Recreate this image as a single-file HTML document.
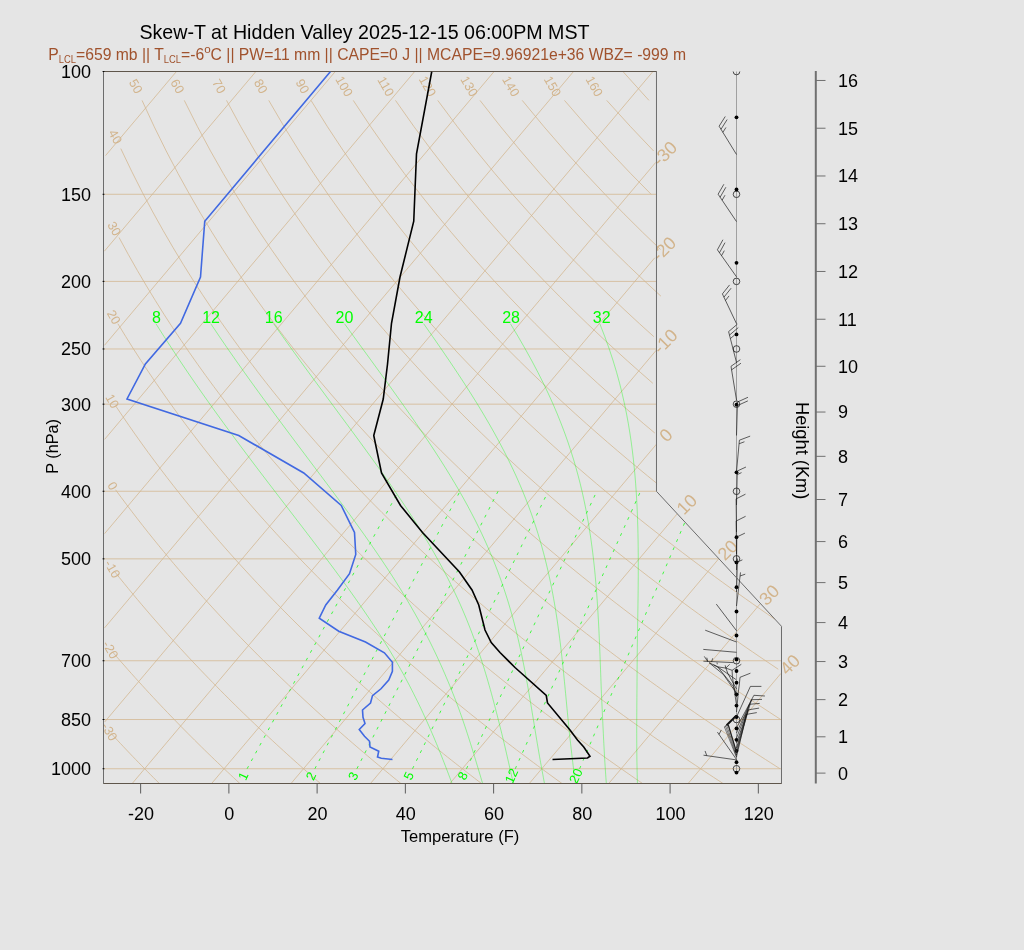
<!DOCTYPE html>
<html><head><meta charset="utf-8"><title>Skew-T</title>
<style>
html,body{margin:0;padding:0;background:#e5e5e5;}
body{width:1024px;height:950px;overflow:hidden;font-family:"Liberation Sans",sans-serif;}
svg{display:block;position:absolute;left:0;top:0;will-change:transform;}
svg text{font-family:"Liberation Sans",sans-serif;}
</style></head><body>
<svg width="1024" height="950" viewBox="0 0 1024 950">
<rect width="1024" height="950" fill="#e5e5e5"/>
<defs><clipPath id="cp"><polygon points="103.50,783.51 103.50,71.50 656.48,71.50 656.48,491.33 781.49,626.31 781.49,783.51"/></clipPath></defs>
<g clip-path="url(#cp)">
<path d="M105.57 155.58 L176.43 71.52" stroke="#d2b48c" stroke-width="0.74" fill="none" />
<path d="M104.41 251.17 L255.85 71.52" stroke="#d2b48c" stroke-width="0.74" fill="none" />
<path d="M104.48 345.31 L335.27 71.52" stroke="#d2b48c" stroke-width="0.74" fill="none" />
<path d="M104.60 439.39 L414.68 71.52" stroke="#d2b48c" stroke-width="0.74" fill="none" />
<path d="M104.61 533.60 L494.10 71.52" stroke="#d2b48c" stroke-width="0.74" fill="none" />
<path d="M104.57 627.87 L573.52 71.52" stroke="#d2b48c" stroke-width="0.74" fill="none" />
<path d="M104.63 722.01 L652.94 71.52" stroke="#d2b48c" stroke-width="0.74" fill="none" />
<path d="M132.21 783.51 L655.76 162.39" stroke="#d2b48c" stroke-width="0.74" fill="none" />
<path d="M211.63 783.51 L654.76 257.79" stroke="#d2b48c" stroke-width="0.74" fill="none" />
<path d="M291.05 783.51 L656.31 350.18" stroke="#d2b48c" stroke-width="0.74" fill="none" />
<path d="M370.47 783.51 L656.77 443.85" stroke="#d2b48c" stroke-width="0.74" fill="none" />
<path d="M449.88 783.51 L677.74 513.18" stroke="#d2b48c" stroke-width="0.74" fill="none" />
<path d="M529.30 783.51 L718.67 558.85" stroke="#d2b48c" stroke-width="0.74" fill="none" />
<path d="M608.72 783.51 L760.20 603.79" stroke="#d2b48c" stroke-width="0.74" fill="none" />
<path d="M688.14 783.51 L780.91 673.44" stroke="#d2b48c" stroke-width="0.74" fill="none" />
<path d="M103.50 783.51 L781.49 783.51" stroke="#d2b48c" stroke-width="0.74" fill="none" />
<path d="M103.50 768.74 L781.49 768.74" stroke="#d2b48c" stroke-width="0.74" fill="none" />
<path d="M103.50 719.53 L781.49 719.53" stroke="#d2b48c" stroke-width="0.74" fill="none" />
<path d="M103.50 660.74 L781.49 660.74" stroke="#d2b48c" stroke-width="0.74" fill="none" />
<path d="M103.50 558.85 L718.69 558.85" stroke="#d2b48c" stroke-width="0.74" fill="none" />
<path d="M103.50 491.28 L656.48 491.28" stroke="#d2b48c" stroke-width="0.74" fill="none" />
<path d="M103.50 404.17 L656.48 404.17" stroke="#d2b48c" stroke-width="0.74" fill="none" />
<path d="M103.50 348.97 L656.48 348.97" stroke="#d2b48c" stroke-width="0.74" fill="none" />
<path d="M103.50 281.40 L656.48 281.40" stroke="#d2b48c" stroke-width="0.74" fill="none" />
<path d="M103.50 194.29 L656.48 194.29" stroke="#d2b48c" stroke-width="0.74" fill="none" />
<path d="M103.50 71.52 L656.48 71.52" stroke="#d2b48c" stroke-width="0.74" fill="none" />
</g>
<path d="M111.11 733.45 L114.23 736.83 L117.35 740.18 L120.44 743.49 L123.52 746.76 L126.59 750.00 L129.64 753.21 L132.67 756.38 L135.69 759.51 L138.70 762.62 L141.69 765.69 L144.67 768.74 L147.63 771.75 L150.58 774.73 L153.52 777.69 L156.44 780.61 L159.35 783.51" stroke="#d2b48c" stroke-width="0.74" fill="none" />
<path d="M112.55 651.96 L116.36 656.38 L120.14 660.74 L123.90 665.03 L127.64 669.27 L131.35 673.44 L135.04 677.56 L138.71 681.63 L142.36 685.64 L145.98 689.60 L149.59 693.50 L153.17 697.36 L156.73 701.17 L160.28 704.93 L163.80 708.65 L167.30 712.32 L170.79 715.94 L174.25 719.53 L177.70 723.07 L181.12 726.57 L184.53 730.03 L187.92 733.45 L191.30 736.83 L194.65 740.18 L197.99 743.49 L201.31 746.76 L204.61 750.00 L207.90 753.21 L211.17 756.38 L214.42 759.51 L217.66 762.62 L220.88 765.69 L224.08 768.74 L227.27 771.75 L230.45 774.73 L233.61 777.69 L236.75 780.61 L239.88 783.51" stroke="#d2b48c" stroke-width="0.74" fill="none" />
<path d="M114.83 571.89 L119.43 577.64 L124.00 583.28 L128.53 588.81 L133.02 594.25 L137.48 599.59 L141.91 604.84 L146.31 609.99 L150.67 615.07 L155.00 620.06 L159.31 624.96 L163.58 629.79 L167.82 634.55 L172.03 639.23 L176.21 643.84 L180.37 648.38 L184.49 652.85 L188.59 657.26 L192.67 661.60 L196.71 665.88 L200.73 670.11 L204.73 674.27 L208.70 678.38 L212.64 682.43 L216.56 686.43 L220.46 690.38 L224.33 694.28 L228.18 698.13 L232.01 701.93 L235.81 705.68 L239.59 709.38 L243.35 713.05 L247.09 716.66 L250.80 720.24 L254.50 723.77 L258.17 727.26 L261.83 730.72 L265.46 734.13 L269.08 737.51 L272.67 740.84 L276.25 744.15 L279.80 747.41 L283.34 750.64 L286.86 753.84 L290.36 757.01 L293.84 760.14 L297.31 763.24 L300.76 766.30 L304.19 769.34 L307.60 772.35 L311.00 775.33 L314.38 778.27 L317.74 781.19 L320.42 783.51" stroke="#d2b48c" stroke-width="0.74" fill="none" />
<path d="M115.56 489.77 L121.09 497.28 L126.58 504.61 L132.02 511.77 L137.40 518.77 L142.73 525.60 L148.02 532.29 L153.26 538.83 L158.45 545.23 L163.60 551.50 L168.70 557.64 L173.76 563.66 L178.78 569.56 L183.76 575.35 L188.69 581.03 L193.59 586.61 L198.44 592.09 L203.26 597.46 L208.04 602.75 L212.78 607.94 L217.49 613.05 L222.16 618.07 L226.79 623.01 L231.40 627.87 L235.96 632.65 L240.50 637.36 L245.00 642.00 L249.47 646.57 L253.91 651.07 L258.32 655.50 L262.70 659.87 L267.05 664.18 L271.37 668.42 L275.66 672.61 L279.92 676.74 L284.16 680.82 L288.36 684.84 L292.55 688.81 L296.70 692.73 L300.83 696.59 L304.93 700.41 L309.01 704.18 L313.06 707.91 L317.09 711.59 L321.10 715.22 L325.08 718.81 L329.04 722.36 L332.97 725.87 L336.89 729.34 L340.78 732.77 L344.64 736.16 L348.49 739.51 L352.32 742.83 L356.12 746.11 L359.91 749.36 L363.67 752.57 L367.41 755.74 L371.14 758.89 L374.84 762.00 L378.52 765.08 L382.19 768.13 L385.84 771.15 L389.46 774.14 L393.07 777.10 L396.66 780.03 L400.24 782.93 L400.95 783.51" stroke="#d2b48c" stroke-width="0.74" fill="none" />
<path d="M115.87 406.19 L122.50 416.05 L129.06 425.60 L135.54 434.86 L141.95 443.85 L148.28 452.58 L154.55 461.06 L160.76 469.31 L166.89 477.34 L172.96 485.17 L178.97 492.80 L184.92 500.24 L190.81 507.50 L196.64 514.59 L202.42 521.52 L208.14 528.29 L213.80 534.92 L219.41 541.40 L224.97 547.75 L230.48 553.97 L235.94 560.06 L241.36 566.03 L246.72 571.89 L252.04 577.64 L257.31 583.28 L262.54 588.81 L267.72 594.25 L272.87 599.59 L277.97 604.84 L283.03 609.99 L288.05 615.07 L293.03 620.06 L297.97 624.96 L302.88 629.79 L307.75 634.55 L312.58 639.23 L317.37 643.84 L322.13 648.38 L326.86 652.85 L331.56 657.26 L336.22 661.60 L340.84 665.88 L345.44 670.11 L350.01 674.27 L354.54 678.38 L359.04 682.43 L363.52 686.43 L367.96 690.38 L372.38 694.28 L376.77 698.13 L381.13 701.93 L385.46 705.68 L389.77 709.38 L394.05 713.05 L398.30 716.66 L402.53 720.24 L406.73 723.77 L410.91 727.26 L415.06 730.72 L419.19 734.13 L423.30 737.51 L427.38 740.84 L431.44 744.15 L435.47 747.41 L439.49 750.64 L443.48 753.84 L447.45 757.01 L451.39 760.14 L455.32 763.24 L459.23 766.30 L463.11 769.34 L466.98 772.35 L470.82 775.33 L474.65 778.27 L478.45 781.19 L481.48 783.51" stroke="#d2b48c" stroke-width="0.74" fill="none" />
<path d="M117.89 323.72 L125.76 336.61 L133.52 348.97 L141.17 360.84 L148.73 372.27 L156.19 383.28 L163.55 393.91 L170.82 404.17 L177.99 414.10 L185.08 423.72 L192.08 433.03 L199.00 442.07 L205.84 450.85 L212.60 459.38 L219.28 467.68 L225.89 475.75 L232.42 483.62 L238.89 491.28 L245.28 498.76 L251.61 506.06 L257.87 513.18 L264.07 520.14 L270.20 526.95 L276.27 533.60 L282.29 540.12 L288.25 546.49 L294.15 552.74 L299.99 558.85 L305.78 564.85 L311.52 570.73 L317.21 576.50 L322.85 582.16 L328.43 587.71 L333.97 593.17 L339.47 598.53 L344.91 603.79 L350.31 608.97 L355.67 614.06 L360.98 619.06 L366.26 623.99 L371.49 628.83 L376.68 633.60 L381.83 638.30 L386.94 642.92 L392.01 647.47 L397.04 651.96 L402.04 656.38 L407.00 660.74 L411.93 665.03 L416.82 669.27 L421.68 673.44 L426.50 677.56 L431.29 681.63 L436.05 685.64 L440.77 689.60 L445.47 693.50 L450.13 697.36 L454.77 701.17 L459.37 704.93 L463.94 708.65 L468.49 712.32 L473.01 715.94 L477.50 719.53 L481.96 723.07 L486.39 726.57 L490.80 730.03 L495.18 733.45 L499.54 736.83 L503.87 740.18 L508.17 743.49 L512.45 746.76 L516.71 750.00 L520.94 753.21 L525.15 756.38 L529.34 759.51 L533.50 762.62 L537.64 765.69 L541.76 768.74 L545.85 771.75 L549.92 774.73 L553.98 777.69 L558.01 780.61 L562.02 783.51" stroke="#d2b48c" stroke-width="0.74" fill="none" />
<path d="M119.04 237.49 L128.32 254.50 L137.45 270.61 L146.45 285.91 L155.30 300.47 L164.03 314.36 L172.62 327.64 L181.09 340.37 L189.43 352.58 L197.65 364.32 L205.76 375.62 L213.76 386.51 L221.64 397.03 L229.42 407.19 L237.10 417.02 L244.68 426.54 L252.16 435.78 L259.54 444.73 L266.84 453.44 L274.05 461.89 L281.17 470.12 L288.21 478.13 L295.17 485.94 L302.05 493.55 L308.86 500.97 L315.59 508.21 L322.25 515.29 L328.83 522.20 L335.35 528.96 L341.81 535.57 L348.19 542.04 L354.52 548.38 L360.78 554.58 L366.98 560.66 L373.13 566.62 L379.21 572.47 L385.24 578.21 L391.22 583.83 L397.14 589.36 L403.01 594.79 L408.83 600.12 L414.60 605.36 L420.32 610.51 L425.99 615.57 L431.62 620.55 L437.19 625.45 L442.73 630.27 L448.22 635.02 L453.67 639.69 L459.07 644.29 L464.44 648.83 L469.76 653.29 L475.04 657.69 L480.29 662.03 L485.49 666.31 L490.66 670.53 L495.79 674.68 L500.89 678.79 L505.95 682.84 L510.97 686.83 L515.97 690.77 L520.92 694.67 L525.85 698.51 L530.74 702.30 L535.60 706.05 L540.42 709.75 L545.22 713.41 L549.99 717.02 L554.72 720.59 L559.43 724.12 L564.11 727.61 L568.76 731.06 L573.38 734.47 L577.97 737.84 L582.54 741.18 L587.08 744.47 L591.59 747.74 L596.08 750.97 L600.54 754.16 L604.97 757.32 L609.39 760.45 L613.77 763.55 L618.13 766.61 L622.47 769.64 L626.79 772.65 L631.08 775.62 L635.35 778.57 L639.59 781.49 L642.55 783.51" stroke="#d2b48c" stroke-width="0.74" fill="none" />
<path d="M120.80 148.62 L131.63 171.23 L142.28 192.26 L152.76 211.93 L163.06 230.40 L173.18 247.81 L183.13 264.27 L192.91 279.88 L202.53 294.73 L211.99 308.88 L221.30 322.40 L230.46 335.34 L239.47 347.75 L248.34 359.68 L257.09 371.15 L265.70 382.20 L274.18 392.86 L282.55 403.16 L290.80 413.13 L298.94 422.77 L306.96 432.12 L314.88 441.18 L322.70 449.99 L330.42 458.54 L338.05 466.86 L345.58 474.96 L353.02 482.84 L360.37 490.53 L367.64 498.02 L374.83 505.34 L381.94 512.48 L388.96 519.46 L395.92 526.28 L402.79 532.95 L409.60 539.47 L416.34 545.86 L423.01 552.12 L429.61 558.25 L436.15 564.25 L442.62 570.15 L449.03 575.92 L455.39 581.60 L461.68 587.16 L467.92 592.63 L474.10 598.00 L480.22 603.27 L486.30 608.46 L492.32 613.55 L498.29 618.57 L504.21 623.50 L510.08 628.35 L515.90 633.13 L521.67 637.83 L527.40 642.46 L533.09 647.02 L538.73 651.51 L544.33 655.94 L549.88 660.30 L555.39 664.60 L560.87 668.85 L566.30 673.03 L571.69 677.15 L577.05 681.22 L582.36 685.24 L587.64 689.20 L592.89 693.11 L598.09 696.98 L603.27 700.79 L608.40 704.56 L613.51 708.28 L618.58 711.95 L623.61 715.58 L628.62 719.17 L633.59 722.72 L638.53 726.22 L643.44 729.68 L648.32 733.11 L653.17 736.50 L658.00 739.85 L662.79 743.16 L667.55 746.44 L672.29 749.68 L676.99 752.89 L681.68 756.06 L686.33 759.20 L690.96 762.31 L695.56 765.39 L700.13 768.43 L704.69 771.45 L709.21 774.44 L713.71 777.39 L718.19 780.32 L722.64 783.22 L723.09 783.51" stroke="#d2b48c" stroke-width="0.74" fill="none" />
<path d="M142.04 100.38 L154.22 126.72 L166.20 150.96 L177.96 173.40 L189.50 194.29 L200.82 213.83 L211.92 232.19 L222.82 249.50 L233.51 265.87 L244.00 281.40 L254.31 296.17 L264.43 310.26 L274.38 323.72 L284.17 336.61 L293.79 348.97 L303.25 360.84 L312.56 372.27 L321.73 383.28 L330.77 393.91 L339.66 404.17 L348.43 414.10 L357.07 423.72 L365.60 433.03 L374.01 442.07 L382.30 450.85 L390.49 459.38 L398.57 467.68 L406.55 475.75 L414.43 483.62 L422.21 491.28 L429.91 498.76 L437.51 506.06 L445.03 513.18 L452.46 520.14 L459.81 526.95 L467.08 533.60 L474.27 540.12 L481.39 546.49 L488.43 552.74 L495.40 558.85 L502.30 564.85 L509.13 570.73 L515.90 576.50 L522.60 582.16 L529.24 587.71 L535.82 593.17 L542.34 598.53 L548.79 603.79 L555.19 608.97 L561.54 614.06 L567.83 619.06 L574.06 623.99 L580.25 628.83 L586.38 633.60 L592.46 638.30 L598.49 642.92 L604.48 647.47 L610.41 651.96 L616.31 656.38 L622.15 660.74 L627.95 665.03 L633.71 669.27 L639.42 673.44 L645.09 677.56 L650.73 681.63 L656.32 685.64 L661.87 689.60 L667.38 693.50 L672.85 697.36 L678.29 701.17 L683.69 704.93 L689.05 708.65 L694.38 712.32 L699.67 715.94 L704.93 719.53 L710.15 723.07 L715.34 726.57 L720.50 730.03 L725.62 733.45 L730.72 736.83 L735.78 740.18 L740.81 743.49 L745.81 746.76 L750.78 750.00 L755.73 753.21 L760.64 756.38 L765.52 759.51 L770.38 762.62 L775.21 765.69 L780.01 768.74" stroke="#d2b48c" stroke-width="0.74" fill="none" />
<path d="M184.28 100.38 L197.53 126.72 L210.51 150.96 L223.22 173.40 L235.66 194.29 L247.84 213.83 L259.77 232.19 L271.45 249.50 L282.90 265.87 L294.12 281.40 L305.13 296.17 L315.94 310.26 L326.55 323.72 L336.97 336.61 L347.21 348.97 L357.28 360.84 L367.18 372.27 L376.92 383.28 L386.51 393.91 L395.95 404.17 L405.24 414.10 L414.41 423.72 L423.44 433.03 L432.34 442.07 L441.12 450.85 L449.78 459.38 L458.33 467.68 L466.77 475.75 L475.10 483.62 L483.32 491.28 L491.45 498.76 L499.48 506.06 L507.41 513.18 L515.26 520.14 L523.01 526.95 L530.68 533.60 L538.26 540.12 L545.77 546.49 L553.19 552.74 L560.54 558.85 L567.81 564.85 L575.01 570.73 L582.13 576.50 L589.19 582.16 L596.18 587.71 L603.10 593.17 L609.96 598.53 L616.75 603.79 L623.49 608.97 L630.16 614.06 L636.78 619.06 L643.33 623.99 L649.83 628.83 L656.28 633.60 L662.67 638.30 L669.01 642.92 L675.30 647.47 L681.54 651.96 L687.73 656.38 L693.87 660.74 L699.96 665.03 L706.00 669.27 L712.00 673.44 L717.96 677.56 L723.87 681.63 L729.74 685.64 L735.57 689.60 L741.35 693.50 L747.09 697.36 L752.80 701.17 L758.46 704.93 L764.09 708.65 L769.67 712.32 L775.23 715.94 L780.74 719.53" stroke="#d2b48c" stroke-width="0.74" fill="none" />
<path d="M226.52 100.38 L240.84 126.72 L254.82 150.96 L268.48 173.40 L281.82 194.29 L294.86 213.83 L307.61 232.19 L320.08 249.50 L332.29 265.87 L344.24 281.40 L355.96 296.17 L367.44 310.26 L378.71 323.72 L389.77 336.61 L400.63 348.97 L411.30 360.84 L421.79 372.27 L432.10 383.28 L442.25 393.91 L452.23 404.17 L462.06 414.10 L471.74 423.72 L481.27 433.03 L490.67 442.07 L499.94 450.85 L509.08 459.38 L518.09 467.68 L526.99 475.75 L535.77 483.62 L544.43 491.28 L552.99 498.76 L561.45 506.06 L569.80 513.18 L578.06 520.14 L586.22 526.95 L594.28 533.60 L602.26 540.12 L610.15 546.49 L617.95 552.74 L625.67 558.85 L633.31 564.85 L640.88 570.73 L648.36 576.50 L655.77 582.16 L663.11 587.71 L670.38 593.17 L677.58 598.53 L684.72 603.79 L691.78 608.97 L698.78 614.06 L705.72 619.06 L712.60 623.99 L719.42 628.83 L726.18 633.60 L732.89 638.30 L739.53 642.92 L746.12 647.47 L752.66 651.96 L759.15 656.38 L765.58 660.74 L771.97 665.03 L778.30 669.27" stroke="#d2b48c" stroke-width="0.74" fill="none" />
<path d="M268.76 100.38 L284.15 126.72 L299.13 150.96 L313.74 173.40 L327.98 194.29 L341.88 213.83 L355.45 232.19 L368.71 249.50 L381.68 265.87 L394.36 281.40 L406.78 296.17 L418.95 310.26 L430.88 323.72 L442.58 336.61 L454.06 348.97 L465.33 360.84 L476.40 372.27 L487.28 383.28 L497.98 393.91 L508.51 404.17 L518.87 414.10 L529.07 423.72 L539.11 433.03 L549.01 442.07 L558.76 450.85 L568.37 459.38 L577.85 467.68 L587.21 475.75 L596.43 483.62 L605.54 491.28 L614.54 498.76 L623.42 506.06 L632.19 513.18 L640.85 520.14 L649.42 526.95 L657.88 533.60 L666.25 540.12 L674.53 546.49 L682.71 552.74 L690.81 558.85 L698.82 564.85 L706.75 570.73 L714.59 576.50 L722.36 582.16 L730.05 587.71 L737.67 593.17 L745.21 598.53 L752.68 603.79 L760.08 608.97 L767.41 614.06 L774.67 619.06" stroke="#d2b48c" stroke-width="0.74" fill="none" />
<path d="M311.01 100.38 L327.46 126.72 L343.45 150.96 L359.00 173.40 L374.15 194.29 L388.90 213.83 L403.30 232.19 L417.35 249.50 L431.07 265.87 L444.48 281.40 L457.61 296.17 L470.46 310.26 L483.04 323.72 L495.38 336.61 L507.48 348.97 L519.35 360.84 L531.01 372.27 L542.47 383.28 L553.72 393.91 L564.79 404.17 L575.68 414.10 L586.40 423.72 L596.95 433.03 L607.34 442.07 L617.58 450.85 L627.67 459.38 L637.61 467.68 L647.42 475.75 L657.10 483.62" stroke="#d2b48c" stroke-width="0.74" fill="none" />
<path d="M353.25 100.38 L370.76 126.72 L387.76 150.96 L404.26 173.40 L420.31 194.29 L435.93 213.83 L451.14 232.19 L465.98 249.50 L480.46 265.87 L494.60 281.40 L508.43 296.17 L521.96 310.26 L535.21 323.72 L548.18 336.61 L560.90 348.97 L573.38 360.84 L585.62 372.27 L597.65 383.28 L609.46 393.91 L621.08 404.17 L632.50 414.10 L643.73 423.72 L654.79 433.03" stroke="#d2b48c" stroke-width="0.74" fill="none" />
<path d="M395.49 100.38 L414.07 126.72 L432.07 150.96 L449.52 173.40 L466.47 194.29 L482.95 213.83 L498.99 232.19 L514.61 249.50 L529.85 265.87 L544.72 281.40 L559.26 296.17 L573.47 310.26 L587.37 323.72 L600.98 336.61 L614.32 348.97 L627.40 360.84 L640.24 372.27 L652.83 383.28" stroke="#d2b48c" stroke-width="0.74" fill="none" />
<path d="M437.74 100.38 L457.38 126.72 L476.38 150.96 L494.78 173.40 L512.63 194.29 L529.97 213.83 L546.83 232.19 L563.24 249.50 L579.24 265.87 L594.84 281.40 L610.08 296.17 L624.97 310.26 L639.53 323.72 L653.79 336.61" stroke="#d2b48c" stroke-width="0.74" fill="none" />
<path d="M479.98 100.38 L500.69 126.72 L520.69 150.96 L540.04 173.40 L558.79 194.29 L576.99 213.83 L594.67 232.19 L611.88 249.50 L628.63 265.87 L644.96 281.40 L660.91 296.17" stroke="#d2b48c" stroke-width="0.74" fill="none" />
<path d="M522.22 100.38 L543.99 126.72 L565.00 150.96 L585.30 173.40 L604.95 194.29 L624.01 213.83 L642.52 232.19 L660.51 249.50" stroke="#d2b48c" stroke-width="0.74" fill="none" />
<path d="M564.47 100.38 L587.30 126.72 L609.31 150.96 L630.56 173.40 L651.12 194.29" stroke="#d2b48c" stroke-width="0.74" fill="none" />
<path d="M606.71 100.38 L630.61 126.72 L653.62 150.96" stroke="#d2b48c" stroke-width="0.74" fill="none" />
<path d="M622.94 71.52 L648.95 100.38" stroke="#d2b48c" stroke-width="0.74" fill="none" />
<g clip-path="url(#cp)">
<path d="M599.79 323.72 L604.81 336.61 L609.24 348.97 L613.15 360.84 L616.58 372.27 L619.60 383.28 L622.24 393.91 L624.55 404.17 L626.58 414.10 L628.35 423.72 L629.89 433.03 L631.22 442.07 L632.38 450.85 L633.39 459.38 L634.26 467.68 L635.00 475.75 L635.64 483.62 L636.18 491.28 L636.63 498.76 L637.02 506.06 L637.33 513.18 L637.59 520.14 L637.80 526.95 L637.96 533.60 L638.08 540.12 L638.17 546.49 L638.23 552.74 L638.27 558.85 L638.28 564.85 L638.27 570.73 L638.25 576.50 L638.21 582.16 L638.16 587.71 L638.11 593.17 L638.04 598.53 L637.97 603.79 L637.90 608.97 L637.82 614.06 L637.74 619.06 L637.66 623.99 L637.59 628.83 L637.51 633.60 L637.44 638.30 L637.37 642.92 L637.31 647.47 L637.25 651.96 L637.20 656.38 L637.18 660.74 L637.15 665.03 L637.12 669.27 L637.09 673.44 L637.06 677.56 L637.03 681.63 L637.00 685.64 L636.96 689.60 L636.93 693.50 L636.90 697.36 L636.87 701.17 L636.84 704.93 L636.82 708.65 L636.79 712.32 L636.77 715.94 L636.76 719.53 L636.74 723.07 L636.74 726.57 L636.73 730.03 L636.73 733.45 L636.74 736.83 L636.74 740.18 L636.76 743.49 L636.78 746.76 L636.80 750.00 L636.83 753.21 L636.86 756.38 L636.90 759.51 L636.95 762.62 L637.00 765.69 L637.06 768.74 L637.12 771.75 L637.19 774.73 L637.26 777.69 L637.35 780.61 L637.43 783.51" stroke="#00ff00" stroke-width="0.36" fill="none" />
<path d="M510.44 323.72 L518.16 336.61 L525.28 348.97 L531.84 360.84 L537.86 372.27 L543.39 383.28 L548.45 393.91 L553.08 404.17 L557.32 414.10 L561.18 423.72 L564.71 433.03 L567.92 442.07 L570.85 450.85 L573.52 459.38 L575.95 467.68 L578.17 475.75 L580.19 483.62 L582.03 491.28 L583.70 498.76 L585.23 506.06 L586.62 513.18 L587.88 520.14 L589.04 526.95 L590.09 533.60 L591.05 540.12 L591.92 546.49 L592.72 552.74 L593.45 558.85 L594.11 564.85 L594.72 570.73 L595.27 576.50 L595.78 582.16 L596.25 587.71 L596.67 593.17 L597.06 598.53 L597.42 603.79 L597.75 608.97 L598.06 614.06 L598.34 619.06 L598.60 623.99 L598.85 628.83 L599.07 633.60 L599.29 638.30 L599.49 642.92 L599.68 647.47 L599.86 651.96 L600.04 656.38 L600.20 660.74 L600.37 665.03 L600.52 669.27 L600.68 673.44 L600.83 677.56 L600.99 681.63 L601.14 685.64 L601.29 689.60 L601.45 693.50 L601.60 697.36 L601.79 701.17 L601.97 704.93 L602.15 708.65 L602.32 712.32 L602.49 715.94 L602.66 719.53 L602.83 723.07 L602.99 726.57 L603.16 730.03 L603.33 733.45 L603.49 736.83 L603.66 740.18 L603.83 743.49 L604.00 746.76 L604.18 750.00 L604.35 753.21 L604.53 756.38 L604.72 759.51 L604.90 762.62 L605.09 765.69 L605.29 768.74 L605.49 771.75 L605.69 774.73 L605.90 777.69 L606.12 780.61 L606.34 783.51" stroke="#00ff00" stroke-width="0.36" fill="none" />
<path d="M423.66 323.72 L432.70 336.61 L441.26 348.97 L449.36 360.84 L457.02 372.27 L464.24 383.28 L471.04 393.91 L477.44 404.17 L483.45 414.10 L489.08 423.72 L494.36 433.03 L499.29 442.07 L503.90 450.85 L508.21 459.38 L512.22 467.68 L515.97 475.75 L519.45 483.62 L522.70 491.28 L525.73 498.76 L528.54 506.06 L531.16 513.18 L533.60 520.14 L535.87 526.95 L537.98 533.60 L539.95 540.12 L541.78 546.49 L543.49 552.74 L545.08 558.85 L546.56 564.85 L547.94 570.73 L549.24 576.50 L550.44 582.16 L551.57 587.71 L552.63 593.17 L553.62 598.53 L554.54 603.79 L555.41 608.97 L556.23 614.06 L557.00 619.06 L557.73 623.99 L558.41 628.83 L559.06 633.60 L559.67 638.30 L560.25 642.92 L560.80 647.47 L561.33 651.96 L561.83 656.38 L562.31 660.74 L562.77 665.03 L563.21 669.27 L563.64 673.44 L564.05 677.56 L564.45 681.63 L564.84 685.64 L565.22 689.60 L565.60 693.50 L565.96 697.36 L566.32 701.17 L566.68 704.93 L567.03 708.65 L567.38 712.32 L567.72 715.94 L568.07 719.53 L568.42 723.07 L568.76 726.57 L569.11 730.03 L569.46 733.45 L569.82 736.83 L570.20 740.18 L570.58 743.49 L570.95 746.76 L571.32 750.00 L571.68 753.21 L572.05 756.38 L572.42 759.51 L572.79 762.62 L573.15 765.69 L573.52 768.74 L573.89 771.75 L574.27 774.73 L574.64 777.69 L575.02 780.61 L575.40 783.51" stroke="#00ff00" stroke-width="0.36" fill="none" />
<path d="M344.50 323.72 L353.83 336.61 L362.80 348.97 L371.44 360.84 L379.73 372.27 L387.69 383.28 L395.32 393.91 L402.63 404.17 L409.63 414.10 L416.31 423.72 L422.69 433.03 L428.77 442.07 L434.57 450.85 L440.08 459.38 L445.32 467.68 L450.30 475.75 L455.02 483.62 L459.49 491.28 L463.73 498.76 L467.74 506.06 L471.53 513.18 L475.12 520.14 L478.51 526.95 L481.71 533.60 L484.73 540.12 L487.59 546.49 L490.28 552.74 L492.82 558.85 L495.22 564.85 L497.49 570.73 L499.64 576.50 L501.66 582.16 L503.58 587.71 L505.39 593.17 L507.10 598.53 L508.72 603.79 L510.25 608.97 L511.71 614.06 L513.09 619.06 L514.40 623.99 L515.65 628.83 L516.83 633.60 L517.96 638.30 L519.04 642.92 L520.06 647.47 L521.05 651.96 L521.99 656.38 L522.89 660.74 L523.75 665.03 L524.58 669.27 L525.38 673.44 L526.16 677.56 L526.90 681.63 L527.63 685.64 L528.33 689.60 L529.01 693.50 L529.67 697.36 L530.32 701.17 L530.95 704.93 L531.57 708.65 L532.17 712.32 L532.77 715.94 L533.36 719.53 L533.94 723.07 L534.51 726.57 L535.07 730.03 L535.64 733.45 L536.20 736.83 L536.75 740.18 L537.30 743.49 L537.86 746.76 L538.41 750.00 L538.96 753.21 L539.52 756.38 L540.07 759.51 L540.63 762.62 L541.19 765.69 L541.76 768.74 L542.31 771.75 L542.86 774.73 L543.40 777.69 L543.93 780.61 L544.46 783.51" stroke="#00ff00" stroke-width="0.36" fill="none" />
<path d="M273.67 323.72 L282.78 336.61 L291.63 348.97 L300.22 360.84 L308.55 372.27 L316.64 383.28 L324.47 393.91 L332.06 404.17 L339.40 414.10 L346.50 423.72 L353.37 433.03 L360.00 442.07 L366.40 450.85 L372.57 459.38 L378.52 467.68 L384.25 475.75 L389.76 483.62 L395.06 491.28 L400.15 498.76 L405.04 506.06 L409.73 513.18 L414.22 520.14 L418.53 526.95 L422.65 533.60 L426.59 540.12 L430.36 546.49 L433.97 552.74 L437.41 558.85 L440.70 564.85 L443.85 570.73 L446.85 576.50 L449.71 582.16 L452.45 587.71 L455.06 593.17 L457.56 598.53 L459.94 603.79 L462.22 608.97 L464.39 614.06 L466.47 619.06 L468.46 623.99 L470.36 628.83 L472.19 633.60 L473.93 638.30 L475.61 642.92 L477.21 647.47 L478.75 651.96 L480.24 656.38 L481.66 660.74 L483.03 665.03 L484.36 669.27 L485.63 673.44 L486.86 677.56 L488.06 681.63 L489.21 685.64 L490.33 689.60 L491.41 693.50 L492.47 697.36 L493.49 701.17 L494.49 704.93 L495.47 708.65 L496.42 712.32 L497.35 715.94 L498.26 719.53 L499.16 723.07 L500.03 726.57 L500.90 730.03 L501.75 733.45 L502.59 736.83 L503.41 740.18 L504.19 743.49 L504.96 746.76 L505.71 750.00 L506.45 753.21 L507.18 756.38 L507.89 759.51 L508.60 762.62 L509.30 765.69 L509.99 768.74 L510.67 771.75 L511.35 774.73 L512.03 777.69 L512.70 780.61 L513.36 783.51" stroke="#00ff00" stroke-width="0.36" fill="none" />
<path d="M210.79 323.72 L219.45 336.61 L227.92 348.97 L236.20 360.84 L244.29 372.27 L252.18 383.28 L259.88 393.91 L267.39 404.17 L274.72 414.10 L281.86 423.72 L288.82 433.03 L295.59 442.07 L302.19 450.85 L308.60 459.38 L314.85 467.68 L320.91 475.75 L326.81 483.62 L332.54 491.28 L338.09 498.76 L343.49 506.06 L348.71 513.18 L353.78 520.14 L358.69 526.95 L363.44 533.60 L368.04 540.12 L372.48 546.49 L376.78 552.74 L380.93 558.85 L384.93 564.85 L388.80 570.73 L392.54 576.50 L396.14 582.16 L399.61 587.71 L402.96 593.17 L406.18 598.53 L409.30 603.79 L412.29 608.97 L415.18 614.06 L417.97 619.06 L420.65 623.99 L423.24 628.83 L425.73 633.60 L428.14 638.30 L430.46 642.92 L432.69 647.47 L434.86 651.96 L436.94 656.38 L438.96 660.74 L440.91 665.03 L442.80 669.27 L444.62 673.44 L446.39 677.56 L448.11 681.63 L449.77 685.64 L451.38 689.60 L452.95 693.50 L454.48 697.36 L455.96 701.17 L457.38 704.93 L458.75 708.65 L460.07 712.32 L461.36 715.94 L462.61 719.53 L463.82 723.07 L465.01 726.57 L466.16 730.03 L467.28 733.45 L468.38 736.83 L469.45 740.18 L470.50 743.49 L471.53 746.76 L472.54 750.00 L473.52 753.21 L474.49 756.38 L475.45 759.51 L476.39 762.62 L477.31 765.69 L478.22 768.74 L479.12 771.75 L480.01 774.73 L480.88 777.69 L481.75 780.61 L482.60 783.51" stroke="#00ff00" stroke-width="0.36" fill="none" />
<path d="M155.95 323.72 L164.11 336.61 L172.11 348.97 L179.97 360.84 L187.68 372.27 L195.24 383.28 L202.66 393.91 L209.92 404.17 L217.05 414.10 L224.03 423.72 L230.87 433.03 L237.56 442.07 L244.11 450.85 L250.53 459.38 L256.81 467.68 L262.95 475.75 L268.95 483.62 L274.82 491.28 L280.56 498.76 L286.17 506.06 L291.65 513.18 L296.99 520.14 L302.21 526.95 L307.31 533.60 L312.28 540.12 L317.13 546.49 L321.85 552.74 L326.45 558.85 L330.94 564.85 L335.30 570.73 L339.55 576.50 L343.68 582.16 L347.71 587.71 L351.62 593.17 L355.42 598.53 L359.12 603.79 L362.71 608.97 L366.19 614.06 L369.58 619.06 L372.87 623.99 L376.07 628.83 L379.17 633.60 L382.18 638.30 L385.07 642.92 L387.88 647.47 L390.59 651.96 L393.22 656.38 L395.77 660.74 L398.24 665.03 L400.64 669.27 L402.96 673.44 L405.21 677.56 L407.39 681.63 L409.50 685.64 L411.56 689.60 L413.55 693.50 L415.48 697.36 L417.36 701.17 L419.19 704.93 L420.97 708.65 L422.70 712.32 L424.38 715.94 L426.01 719.53 L427.61 723.07 L429.17 726.57 L430.68 730.03 L432.16 733.45 L433.61 736.83 L435.02 740.18 L436.40 743.49 L437.75 746.76 L439.07 750.00 L440.36 753.21 L441.63 756.38 L442.87 759.51 L444.09 762.62 L445.28 765.69 L446.45 768.74 L447.61 771.75 L448.74 774.73 L449.85 777.69 L450.95 780.61 L452.03 783.51" stroke="#00ff00" stroke-width="0.36" fill="none" />
<path d="M579.62 768.74 L698.11 491.28" stroke="#00ff00" stroke-width="0.72" fill="none" stroke-dasharray="2.9 5.91"/>
<path d="M515.27 768.74 L640.55 491.28" stroke="#00ff00" stroke-width="0.72" fill="none" stroke-dasharray="2.9 5.91"/>
<path d="M466.50 768.74 L596.80 491.28" stroke="#00ff00" stroke-width="0.72" fill="none" stroke-dasharray="2.9 5.91"/>
<path d="M412.53 768.74 L548.25 491.28" stroke="#00ff00" stroke-width="0.72" fill="none" stroke-dasharray="2.9 5.91"/>
<path d="M356.90 768.74 L498.04 491.28" stroke="#00ff00" stroke-width="0.72" fill="none" stroke-dasharray="2.9 5.91"/>
<path d="M314.87 768.74 L460.00 491.28" stroke="#00ff00" stroke-width="0.72" fill="none" stroke-dasharray="2.9 5.91"/>
<path d="M247.10 768.74 L398.43 491.28" stroke="#00ff00" stroke-width="0.72" fill="none" stroke-dasharray="2.9 5.91"/>
</g>
<text x="664.95" y="153.68" font-size="18" fill="#d2b48c" text-anchor="middle" dominant-baseline="central" transform="rotate(-45.0 664.95 153.68)" >-30</text>
<text x="663.95" y="249.09" font-size="18" fill="#d2b48c" text-anchor="middle" dominant-baseline="central" transform="rotate(-45.0 663.95 249.09)" >-20</text>
<text x="665.50" y="341.47" font-size="18" fill="#d2b48c" text-anchor="middle" dominant-baseline="central" transform="rotate(-45.0 665.50 341.47)" >-10</text>
<text x="665.96" y="435.15" font-size="18" fill="#d2b48c" text-anchor="middle" dominant-baseline="central" transform="rotate(-45.0 665.96 435.15)" >0</text>
<text x="686.94" y="504.48" font-size="18" fill="#d2b48c" text-anchor="middle" dominant-baseline="central" transform="rotate(-45.0 686.94 504.48)" >10</text>
<text x="727.86" y="550.15" font-size="18" fill="#d2b48c" text-anchor="middle" dominant-baseline="central" transform="rotate(-45.0 727.86 550.15)" >20</text>
<text x="769.40" y="595.09" font-size="18" fill="#d2b48c" text-anchor="middle" dominant-baseline="central" transform="rotate(-45.0 769.40 595.09)" >30</text>
<text x="790.11" y="664.74" font-size="18" fill="#d2b48c" text-anchor="middle" dominant-baseline="central" transform="rotate(-45.0 790.11 664.74)" >40</text>
<text x="109.54" y="731.74" font-size="12.8" fill="#d2b48c" text-anchor="middle" dominant-baseline="central" transform="rotate(60.0 109.54 731.74)" >-30</text>
<text x="110.63" y="649.72" font-size="12.8" fill="#d2b48c" text-anchor="middle" dominant-baseline="central" transform="rotate(60.0 110.63 649.72)" >-20</text>
<text x="112.52" y="568.98" font-size="12.8" fill="#d2b48c" text-anchor="middle" dominant-baseline="central" transform="rotate(60.0 112.52 568.98)" >-10</text>
<text x="112.77" y="485.94" font-size="12.8" fill="#d2b48c" text-anchor="middle" dominant-baseline="central" transform="rotate(60.0 112.77 485.94)" >0</text>
<text x="112.52" y="401.13" font-size="12.8" fill="#d2b48c" text-anchor="middle" dominant-baseline="central" transform="rotate(60.0 112.52 401.13)" >10</text>
<text x="113.92" y="317.06" font-size="12.8" fill="#d2b48c" text-anchor="middle" dominant-baseline="central" transform="rotate(60.0 113.92 317.06)" >20</text>
<text x="114.35" y="228.61" font-size="12.8" fill="#d2b48c" text-anchor="middle" dominant-baseline="central" transform="rotate(60.0 114.35 228.61)" >30</text>
<text x="115.33" y="136.65" font-size="12.8" fill="#d2b48c" text-anchor="middle" dominant-baseline="central" transform="rotate(60.0 115.33 136.65)" >40</text>
<text x="135.87" y="86.29" font-size="12.8" fill="#d2b48c" text-anchor="middle" dominant-baseline="central" transform="rotate(60.0 135.87 86.29)" >50</text>
<text x="177.55" y="86.29" font-size="12.8" fill="#d2b48c" text-anchor="middle" dominant-baseline="central" transform="rotate(60.0 177.55 86.29)" >60</text>
<text x="219.24" y="86.29" font-size="12.8" fill="#d2b48c" text-anchor="middle" dominant-baseline="central" transform="rotate(60.0 219.24 86.29)" >70</text>
<text x="260.92" y="86.29" font-size="12.8" fill="#d2b48c" text-anchor="middle" dominant-baseline="central" transform="rotate(60.0 260.92 86.29)" >80</text>
<text x="302.61" y="86.29" font-size="12.8" fill="#d2b48c" text-anchor="middle" dominant-baseline="central" transform="rotate(60.0 302.61 86.29)" >90</text>
<text x="344.29" y="86.29" font-size="12.8" fill="#d2b48c" text-anchor="middle" dominant-baseline="central" transform="rotate(60.0 344.29 86.29)" >100</text>
<text x="385.97" y="86.29" font-size="12.8" fill="#d2b48c" text-anchor="middle" dominant-baseline="central" transform="rotate(60.0 385.97 86.29)" >110</text>
<text x="427.66" y="86.29" font-size="12.8" fill="#d2b48c" text-anchor="middle" dominant-baseline="central" transform="rotate(60.0 427.66 86.29)" >120</text>
<text x="469.34" y="86.29" font-size="12.8" fill="#d2b48c" text-anchor="middle" dominant-baseline="central" transform="rotate(60.0 469.34 86.29)" >130</text>
<text x="511.03" y="86.29" font-size="12.8" fill="#d2b48c" text-anchor="middle" dominant-baseline="central" transform="rotate(60.0 511.03 86.29)" >140</text>
<text x="552.71" y="86.29" font-size="12.8" fill="#d2b48c" text-anchor="middle" dominant-baseline="central" transform="rotate(60.0 552.71 86.29)" >150</text>
<text x="594.40" y="86.29" font-size="12.8" fill="#d2b48c" text-anchor="middle" dominant-baseline="central" transform="rotate(60.0 594.40 86.29)" >160</text>
<text x="601.74" y="317.06" font-size="16" fill="#00ff00" text-anchor="middle" dominant-baseline="central" >32</text>
<text x="511.05" y="317.06" font-size="16" fill="#00ff00" text-anchor="middle" dominant-baseline="central" >28</text>
<text x="423.67" y="317.06" font-size="16" fill="#00ff00" text-anchor="middle" dominant-baseline="central" >24</text>
<text x="344.40" y="317.06" font-size="16" fill="#00ff00" text-anchor="middle" dominant-baseline="central" >20</text>
<text x="273.72" y="317.06" font-size="16" fill="#00ff00" text-anchor="middle" dominant-baseline="central" >16</text>
<text x="211.08" y="317.06" font-size="16" fill="#00ff00" text-anchor="middle" dominant-baseline="central" >12</text>
<text x="156.52" y="317.06" font-size="16" fill="#00ff00" text-anchor="middle" dominant-baseline="central" >8</text>
<text x="575.82" y="775.94" font-size="13" fill="#00ff00" text-anchor="middle" dominant-baseline="central" transform="rotate(-65.0 575.82 775.94)" >20</text>
<text x="511.47" y="775.94" font-size="13" fill="#00ff00" text-anchor="middle" dominant-baseline="central" transform="rotate(-65.0 511.47 775.94)" >12</text>
<text x="462.70" y="775.94" font-size="13" fill="#00ff00" text-anchor="middle" dominant-baseline="central" transform="rotate(-65.0 462.70 775.94)" >8</text>
<text x="408.73" y="775.94" font-size="13" fill="#00ff00" text-anchor="middle" dominant-baseline="central" transform="rotate(-65.0 408.73 775.94)" >5</text>
<text x="353.10" y="775.94" font-size="13" fill="#00ff00" text-anchor="middle" dominant-baseline="central" transform="rotate(-65.0 353.10 775.94)" >3</text>
<text x="311.07" y="775.94" font-size="13" fill="#00ff00" text-anchor="middle" dominant-baseline="central" transform="rotate(-65.0 311.07 775.94)" >2</text>
<text x="243.30" y="775.94" font-size="13" fill="#00ff00" text-anchor="middle" dominant-baseline="central" transform="rotate(-65.0 243.30 775.94)" >1</text>
<path d="M103.50 783.51 L103.50 71.50 L656.48 71.50 L656.48 491.33 L781.49 626.31 L781.49 783.51 L103.50 783.51" stroke="#6c6c6c" stroke-width="1" fill="none" />
<path d="M103.50 71.50 L656.48 71.50" stroke="#5f564b" stroke-width="1" fill="none" />
<path d="M781.49 783.51 L103.50 783.51" stroke="#5f564b" stroke-width="1" fill="none" />
<defs><clipPath id="cpw"><rect x="700" y="71.5" width="80" height="800"/></clipPath></defs>
<g clip-path="url(#cp)">
<path d="M431.75 71.50 L416.50 153.75 L413.75 221.25 L400.00 277.00 L391.50 323.25 L387.50 364.25 L383.25 399.00 L373.75 435.50 L381.50 473.00 L400.50 505.50 L422.50 532.50 L459.50 572.00 L472.00 590.00 L478.75 605.00 L485.00 630.00 L491.25 642.50 L500.00 652.50 L515.00 667.50 L546.25 695.50 L547.50 703.00 L570.00 730.00 L577.50 740.00 L583.75 747.00 L590.00 756.25 L587.50 758.00 L552.50 759.50" stroke="#000" stroke-width="1.6" fill="none" stroke-linejoin="miter"/>
<path d="M330.50 71.50 L204.75 221.25 L200.50 277.00 L180.50 323.25 L145.40 364.00 L127.00 399.00 L238.75 435.50 L303.75 473.00 L341.25 505.50 L354.50 532.50 L355.75 554.50 L349.50 573.75 L337.50 590.00 L325.75 605.00 L319.25 618.25 L338.75 631.25 L365.50 642.00 L384.40 652.80 L392.40 662.30 L392.40 671.25 L388.75 680.00 L381.00 688.75 L372.50 695.60 L370.50 703.00 L362.50 710.00 L363.00 717.30 L365.00 723.50 L359.25 729.50 L364.50 736.25 L369.50 741.25 L370.00 747.00 L378.75 751.25 L377.50 757.00 L381.25 758.25 L392.50 759.50" stroke="#4169e1" stroke-width="1.6" fill="none" stroke-linejoin="miter"/>
</g>
<text x="364.50" y="38.80" font-size="19.65" fill="#000" text-anchor="middle" >Skew-T at Hidden Valley 2025-12-15 06:00PM MST</text>
<text x="48.3" y="60" font-size="15.73" fill="#a0522d">P<tspan font-size="11" dy="2.9" textLength="17.2" lengthAdjust="spacingAndGlyphs">LCL</tspan><tspan dy="-2.9">=659 mb || T</tspan><tspan font-size="11" dy="2.9" textLength="17.2" lengthAdjust="spacingAndGlyphs">LCL</tspan><tspan dy="-2.9">=-6</tspan><tspan font-size="11.6" dy="-6.8">o</tspan><tspan dy="6.8">C || PW=11 mm || CAPE=0 J || MCAPE=9.96921e+36 WBZ= -999 m</tspan></text>
<text x="91.00" y="77.92" font-size="18" fill="#000" text-anchor="end" >100</text>
<path d="M102.60 71.52 L104.40 71.52" stroke="#000" stroke-width="1" fill="none" />
<text x="91.00" y="200.69" font-size="18" fill="#000" text-anchor="end" >150</text>
<path d="M102.60 194.29 L104.40 194.29" stroke="#000" stroke-width="1" fill="none" />
<text x="91.00" y="287.80" font-size="18" fill="#000" text-anchor="end" >200</text>
<path d="M102.60 281.40 L104.40 281.40" stroke="#000" stroke-width="1" fill="none" />
<text x="91.00" y="355.37" font-size="18" fill="#000" text-anchor="end" >250</text>
<path d="M102.60 348.97 L104.40 348.97" stroke="#000" stroke-width="1" fill="none" />
<text x="91.00" y="410.57" font-size="18" fill="#000" text-anchor="end" >300</text>
<path d="M102.60 404.17 L104.40 404.17" stroke="#000" stroke-width="1" fill="none" />
<text x="91.00" y="497.68" font-size="18" fill="#000" text-anchor="end" >400</text>
<path d="M102.60 491.28 L104.40 491.28" stroke="#000" stroke-width="1" fill="none" />
<text x="91.00" y="565.25" font-size="18" fill="#000" text-anchor="end" >500</text>
<path d="M102.60 558.85 L104.40 558.85" stroke="#000" stroke-width="1" fill="none" />
<text x="91.00" y="667.14" font-size="18" fill="#000" text-anchor="end" >700</text>
<path d="M102.60 660.74 L104.40 660.74" stroke="#000" stroke-width="1" fill="none" />
<text x="91.00" y="725.93" font-size="18" fill="#000" text-anchor="end" >850</text>
<path d="M102.60 719.53 L104.40 719.53" stroke="#000" stroke-width="1" fill="none" />
<text x="91.00" y="775.14" font-size="18" fill="#000" text-anchor="end" >1000</text>
<path d="M102.60 768.74 L104.40 768.74" stroke="#000" stroke-width="1" fill="none" />
<text x="58.00" y="446.40" font-size="16.25" fill="#000" text-anchor="middle" transform="rotate(-90.0 58.00 446.40)" >P (hPa)</text>
<path d="M140.64 783.50 L140.64 793.50" stroke="#5c5c5c" stroke-width="1" fill="none" />
<text x="141.04" y="819.80" font-size="18" fill="#000" text-anchor="middle" >-20</text>
<path d="M228.88 783.50 L228.88 793.50" stroke="#5c5c5c" stroke-width="1" fill="none" />
<text x="229.28" y="819.80" font-size="18" fill="#000" text-anchor="middle" >0</text>
<path d="M317.12 783.50 L317.12 793.50" stroke="#5c5c5c" stroke-width="1" fill="none" />
<text x="317.52" y="819.80" font-size="18" fill="#000" text-anchor="middle" >20</text>
<path d="M405.36 783.50 L405.36 793.50" stroke="#5c5c5c" stroke-width="1" fill="none" />
<text x="405.76" y="819.80" font-size="18" fill="#000" text-anchor="middle" >40</text>
<path d="M493.61 783.50 L493.61 793.50" stroke="#5c5c5c" stroke-width="1" fill="none" />
<text x="494.01" y="819.80" font-size="18" fill="#000" text-anchor="middle" >60</text>
<path d="M581.85 783.50 L581.85 793.50" stroke="#5c5c5c" stroke-width="1" fill="none" />
<text x="582.25" y="819.80" font-size="18" fill="#000" text-anchor="middle" >80</text>
<path d="M670.09 783.50 L670.09 793.50" stroke="#5c5c5c" stroke-width="1" fill="none" />
<text x="670.49" y="819.80" font-size="18" fill="#000" text-anchor="middle" >100</text>
<path d="M758.33 783.50 L758.33 793.50" stroke="#5c5c5c" stroke-width="1" fill="none" />
<text x="758.73" y="819.80" font-size="18" fill="#000" text-anchor="middle" >120</text>
<text x="460.00" y="841.60" font-size="16.55" fill="#000" text-anchor="middle" >Temperature (F)</text>
<path d="M815.80 71.00 L815.80 783.50" stroke="#707070" stroke-width="2" fill="none" />
<path d="M815.80 773.12 L825.50 773.12" stroke="#707070" stroke-width="1" fill="none" />
<text x="838.10" y="779.52" font-size="18" fill="#000" text-anchor="start" >0</text>
<path d="M815.80 736.80 L825.50 736.80" stroke="#707070" stroke-width="1" fill="none" />
<text x="838.10" y="743.20" font-size="18" fill="#000" text-anchor="start" >1</text>
<path d="M815.80 699.63 L825.50 699.63" stroke="#707070" stroke-width="1" fill="none" />
<text x="838.10" y="706.03" font-size="18" fill="#000" text-anchor="start" >2</text>
<path d="M815.80 661.56 L825.50 661.56" stroke="#707070" stroke-width="1" fill="none" />
<text x="838.10" y="667.96" font-size="18" fill="#000" text-anchor="start" >3</text>
<path d="M815.80 622.57 L825.50 622.57" stroke="#707070" stroke-width="1" fill="none" />
<text x="838.10" y="628.97" font-size="18" fill="#000" text-anchor="start" >4</text>
<path d="M815.80 582.60 L825.50 582.60" stroke="#707070" stroke-width="1" fill="none" />
<text x="838.10" y="589.00" font-size="18" fill="#000" text-anchor="start" >5</text>
<path d="M815.80 541.58 L825.50 541.58" stroke="#707070" stroke-width="1" fill="none" />
<text x="838.10" y="547.98" font-size="18" fill="#000" text-anchor="start" >6</text>
<path d="M815.80 499.50 L825.50 499.50" stroke="#707070" stroke-width="1" fill="none" />
<text x="838.10" y="505.90" font-size="18" fill="#000" text-anchor="start" >7</text>
<path d="M815.80 456.34 L825.50 456.34" stroke="#707070" stroke-width="1" fill="none" />
<text x="838.10" y="462.74" font-size="18" fill="#000" text-anchor="start" >8</text>
<path d="M815.80 412.04 L825.50 412.04" stroke="#707070" stroke-width="1" fill="none" />
<text x="838.10" y="418.44" font-size="18" fill="#000" text-anchor="start" >9</text>
<path d="M815.80 366.28 L825.50 366.28" stroke="#707070" stroke-width="1" fill="none" />
<text x="838.10" y="372.68" font-size="18" fill="#000" text-anchor="start" >10</text>
<path d="M815.80 319.24 L825.50 319.24" stroke="#707070" stroke-width="1" fill="none" />
<text x="838.10" y="325.64" font-size="18" fill="#000" text-anchor="start" >11</text>
<path d="M815.80 271.48 L825.50 271.48" stroke="#707070" stroke-width="1" fill="none" />
<text x="838.10" y="277.88" font-size="18" fill="#000" text-anchor="start" >12</text>
<path d="M815.80 223.73 L825.50 223.73" stroke="#707070" stroke-width="1" fill="none" />
<text x="838.10" y="230.13" font-size="18" fill="#000" text-anchor="start" >13</text>
<path d="M815.80 175.98 L825.50 175.98" stroke="#707070" stroke-width="1" fill="none" />
<text x="838.10" y="182.38" font-size="18" fill="#000" text-anchor="start" >14</text>
<path d="M815.80 128.23 L825.50 128.23" stroke="#707070" stroke-width="1" fill="none" />
<text x="838.10" y="134.63" font-size="18" fill="#000" text-anchor="start" >15</text>
<path d="M815.80 80.48 L825.50 80.48" stroke="#707070" stroke-width="1" fill="none" />
<text x="838.10" y="86.88" font-size="18" fill="#000" text-anchor="start" >16</text>
<text x="795.50" y="450.70" font-size="18.28" fill="#000" text-anchor="middle" transform="rotate(90.0 795.50 450.70)" >Height (Km)</text>
<path d="M736.50 71.50 L736.50 773.00" stroke="#a0a0a0" stroke-width="1" fill="none" />
<g clip-path="url(#cpw)">
<circle cx="736.50" cy="71.52" r="3.3" fill="none" stroke="#222" stroke-width="0.8"/>
<circle cx="736.50" cy="194.29" r="3.3" fill="none" stroke="#222" stroke-width="0.8"/>
<circle cx="736.50" cy="281.40" r="3.3" fill="none" stroke="#222" stroke-width="0.8"/>
<circle cx="736.50" cy="348.97" r="3.3" fill="none" stroke="#222" stroke-width="0.8"/>
<circle cx="736.50" cy="404.17" r="3.3" fill="none" stroke="#222" stroke-width="0.8"/>
<circle cx="736.50" cy="491.28" r="3.3" fill="none" stroke="#222" stroke-width="0.8"/>
<circle cx="736.50" cy="558.85" r="3.3" fill="none" stroke="#222" stroke-width="0.8"/>
<circle cx="736.50" cy="660.74" r="3.3" fill="none" stroke="#222" stroke-width="0.8"/>
<circle cx="736.50" cy="719.53" r="3.3" fill="none" stroke="#222" stroke-width="0.8"/>
<circle cx="736.50" cy="768.74" r="3.3" fill="none" stroke="#222" stroke-width="0.8"/>
</g>
<circle cx="736.50" cy="117.30" r="1.9" fill="#000"/>
<circle cx="736.50" cy="189.50" r="1.9" fill="#000"/>
<circle cx="736.50" cy="262.80" r="1.9" fill="#000"/>
<circle cx="736.50" cy="334.40" r="1.9" fill="#000"/>
<circle cx="736.50" cy="404.70" r="1.9" fill="#000"/>
<circle cx="736.50" cy="472.30" r="1.9" fill="#000"/>
<circle cx="736.50" cy="537.20" r="1.9" fill="#000"/>
<circle cx="736.50" cy="562.40" r="1.9" fill="#000"/>
<circle cx="736.50" cy="587.20" r="1.9" fill="#000"/>
<circle cx="736.50" cy="611.50" r="1.9" fill="#000"/>
<circle cx="736.50" cy="635.50" r="1.9" fill="#000"/>
<circle cx="736.50" cy="659.40" r="1.9" fill="#000"/>
<circle cx="736.50" cy="671.00" r="1.9" fill="#000"/>
<circle cx="736.50" cy="682.70" r="1.9" fill="#000"/>
<circle cx="736.50" cy="694.30" r="1.9" fill="#000"/>
<circle cx="736.50" cy="705.60" r="1.9" fill="#000"/>
<circle cx="736.50" cy="717.00" r="1.9" fill="#000"/>
<circle cx="736.50" cy="728.40" r="1.9" fill="#000"/>
<circle cx="736.50" cy="739.80" r="1.9" fill="#000"/>
<circle cx="736.50" cy="750.80" r="1.9" fill="#000"/>
<circle cx="736.50" cy="762.20" r="1.9" fill="#000"/>
<circle cx="736.50" cy="772.60" r="1.9" fill="#000"/>
<path d="M736.50 154.50 L719.10 126.20" stroke="#111" stroke-width="0.65" fill="none" />
<path d="M719.10 126.20 L725.26 116.49" stroke="#111" stroke-width="0.65" fill="none" />
<path d="M720.99 129.27 L727.15 119.56" stroke="#111" stroke-width="0.65" fill="none" />
<path d="M722.87 132.33 L725.95 127.48" stroke="#111" stroke-width="0.65" fill="none" />
<path d="M736.50 221.60 L718.10 194.20" stroke="#111" stroke-width="0.65" fill="none" />
<path d="M718.10 194.20 L723.87 184.25" stroke="#111" stroke-width="0.65" fill="none" />
<path d="M720.11 197.19 L725.88 187.24" stroke="#111" stroke-width="0.65" fill="none" />
<path d="M722.11 200.18 L725.00 195.20" stroke="#111" stroke-width="0.65" fill="none" />
<path d="M736.50 276.80 L717.40 249.80" stroke="#111" stroke-width="0.65" fill="none" />
<path d="M717.40 249.80 L722.93 239.72" stroke="#111" stroke-width="0.65" fill="none" />
<path d="M719.48 252.74 L725.01 242.65" stroke="#111" stroke-width="0.65" fill="none" />
<path d="M721.56 255.68 L724.32 250.64" stroke="#111" stroke-width="0.65" fill="none" />
<path d="M736.50 323.70 L722.40 293.90" stroke="#111" stroke-width="0.65" fill="none" />
<path d="M722.40 293.90 L729.59 284.92" stroke="#111" stroke-width="0.65" fill="none" />
<path d="M723.94 297.15 L731.13 288.18" stroke="#111" stroke-width="0.65" fill="none" />
<path d="M725.48 300.41 L729.07 295.92" stroke="#111" stroke-width="0.65" fill="none" />
<path d="M736.50 362.50 L728.60 331.60" stroke="#111" stroke-width="0.65" fill="none" />
<path d="M728.60 331.60 L737.37 324.16" stroke="#111" stroke-width="0.65" fill="none" />
<path d="M729.49 335.09 L738.26 327.64" stroke="#111" stroke-width="0.65" fill="none" />
<path d="M730.38 338.58 L734.77 334.85" stroke="#111" stroke-width="0.65" fill="none" />
<path d="M736.50 400.00 L731.00 366.30" stroke="#111" stroke-width="0.65" fill="none" />
<path d="M731.00 366.30 L740.39 359.66" stroke="#111" stroke-width="0.65" fill="none" />
<path d="M731.58 369.85 L740.97 363.21" stroke="#111" stroke-width="0.65" fill="none" />
<path d="M736.50 435.50 L737.50 402.00" stroke="#111" stroke-width="0.65" fill="none" />
<path d="M737.50 402.00 L747.98 397.27" stroke="#111" stroke-width="0.65" fill="none" />
<path d="M737.39 405.60 L747.87 400.87" stroke="#111" stroke-width="0.65" fill="none" />
<path d="M736.50 471.70 L739.40 440.20" stroke="#111" stroke-width="0.65" fill="none" />
<path d="M739.40 440.20 L750.15 436.13" stroke="#111" stroke-width="0.65" fill="none" />
<path d="M739.07 443.78 L744.45 441.75" stroke="#111" stroke-width="0.65" fill="none" />
<path d="M736.50 505.00 L737.30 471.00" stroke="#111" stroke-width="0.65" fill="none" />
<path d="M737.30 471.00 L745.93 467.04" stroke="#111" stroke-width="0.65" fill="none" />
<path d="M737.22 474.60 L741.53 472.62" stroke="#111" stroke-width="0.65" fill="none" />
<path d="M736.50 532.00 L736.10 498.90" stroke="#111" stroke-width="0.65" fill="none" />
<path d="M736.10 498.90 L745.48 494.18" stroke="#111" stroke-width="0.65" fill="none" />
<path d="M736.50 554.00 L736.20 521.00" stroke="#111" stroke-width="0.65" fill="none" />
<path d="M736.20 521.00 L745.60 516.31" stroke="#111" stroke-width="0.65" fill="none" />
<path d="M736.50 570.00 L736.80 537.00" stroke="#111" stroke-width="0.65" fill="none" />
<path d="M736.80 537.00 L744.92 533.13" stroke="#111" stroke-width="0.65" fill="none" />
<path d="M736.50 592.00 L737.50 558.50" stroke="#111" stroke-width="0.65" fill="none" />
<path d="M737.39 562.10 L742.41 559.84" stroke="#111" stroke-width="0.65" fill="none" />
<path d="M736.50 606.00 L740.50 572.40" stroke="#111" stroke-width="0.65" fill="none" />
<path d="M740.07 575.97 L745.27 574.16" stroke="#111" stroke-width="0.65" fill="none" />
<path d="M736.50 630.70 L716.30 604.10" stroke="#111" stroke-width="0.65" fill="none" />
<path d="M736.50 642.00 L705.20 630.20" stroke="#111" stroke-width="0.65" fill="none" />
<path d="M736.50 652.30 L703.30 649.40" stroke="#111" stroke-width="0.65" fill="none" />
<path d="M733.40 662.60 L703.40 661.20" stroke="#111" stroke-width="0.65" fill="none" />
<path d="M707.50 661.20 L704.30 656.40" stroke="#111" stroke-width="0.65" fill="none" />
<path d="M707.80 661.80 L706.80 657.70" stroke="#111" stroke-width="0.65" fill="none" />
<path d="M711.60 661.80 L712.70 658.30" stroke="#111" stroke-width="0.65" fill="none" />
<path d="M709.10 662.70 L723.30 674.40 L735.30 691.50 L736.50 697.00" stroke="#111" stroke-width="0.65" fill="none" />
<path d="M709.10 662.70 L717.60 666.80 L733.40 686.40 L736.50 694.00" stroke="#111" stroke-width="0.65" fill="none" />
<path d="M717.00 662.50 L717.30 664.30" stroke="#111" stroke-width="0.65" fill="none" />
<path d="M713.50 664.80 L717.60 666.80 L725.80 668.10 L732.10 670.30" stroke="#111" stroke-width="0.65" fill="none" />
<path d="M717.60 666.80 L735.90 679.50" stroke="#111" stroke-width="0.65" fill="none" />
<path d="M725.20 665.30 L725.80 668.10 L729.60 664.30" stroke="#111" stroke-width="0.65" fill="none" />
<path d="M725.80 668.10 L728.00 673.80 L736.50 689.00" stroke="#111" stroke-width="0.65" fill="none" />
<path d="M741.30 664.30 L732.10 670.30 L732.40 676.30 L734.30 690.20 L736.50 705.00" stroke="#111" stroke-width="0.65" fill="none" />
<path d="M750.40 673.20 L740.00 677.30 L739.40 683.90 L738.40 691.50 L736.50 712.00" stroke="#111" stroke-width="0.65" fill="none" />
<path d="M736.50 717.00 L750.40 686.40 L761.40 686.40" stroke="#111" stroke-width="0.65" fill="none" />
<path d="M736.50 728.00 L753.90 695.30 L764.90 696.00" stroke="#111" stroke-width="0.65" fill="none" />
<path d="M736.50 733.00 L751.60 699.70 L762.00 699.40" stroke="#111" stroke-width="0.65" fill="none" />
<path d="M736.50 738.00 L749.50 704.30 L759.70 703.40" stroke="#111" stroke-width="0.65" fill="none" />
<path d="M736.50 743.00 L748.10 709.90 L759.10 708.10" stroke="#111" stroke-width="0.65" fill="none" />
<path d="M736.50 748.00 L746.30 714.40 L756.80 712.60" stroke="#111" stroke-width="0.65" fill="none" />
<path d="M736.50 750.00 L751.60 699.70" stroke="#111" stroke-width="0.5" fill="none" />
<path d="M736.50 752.50 L749.50 704.30" stroke="#111" stroke-width="0.5" fill="none" />
<path d="M736.50 755.00 L748.10 709.90" stroke="#111" stroke-width="0.5" fill="none" />
<path d="M736.50 757.00 L746.30 714.40" stroke="#111" stroke-width="0.5" fill="none" />
<path d="M736.50 757.50 L724.40 726.90" stroke="#111" stroke-width="0.5" fill="none" />
<path d="M736.50 756.50 L725.60 726.20" stroke="#111" stroke-width="0.5" fill="none" />
<path d="M736.50 755.00 L726.80 725.50" stroke="#111" stroke-width="0.5" fill="none" />
<path d="M736.50 753.00 L728.30 725.00" stroke="#111" stroke-width="0.5" fill="none" />
<path d="M728.30 725.00 L736.50 752.00" stroke="#222" stroke-width="1.1" fill="none" />
<path d="M724.40 726.90 L726.80 725.00" stroke="#222" stroke-width="0.9" fill="none" />
<path d="M726.60 725.20 L736.20 715.70" stroke="#111" stroke-width="1.9" fill="none" />
<path d="M736.50 759.50 L717.40 732.10" stroke="#111" stroke-width="0.65" fill="none" />
<path d="M719.00 734.40 L721.28 729.95" stroke="#111" stroke-width="0.65" fill="none" />
<path d="M736.50 759.90 L703.50 755.20" stroke="#111" stroke-width="0.65" fill="none" />
<path d="M706.77 755.67 L705.07 750.96" stroke="#111" stroke-width="0.65" fill="none" />
</svg>
</body></html>
